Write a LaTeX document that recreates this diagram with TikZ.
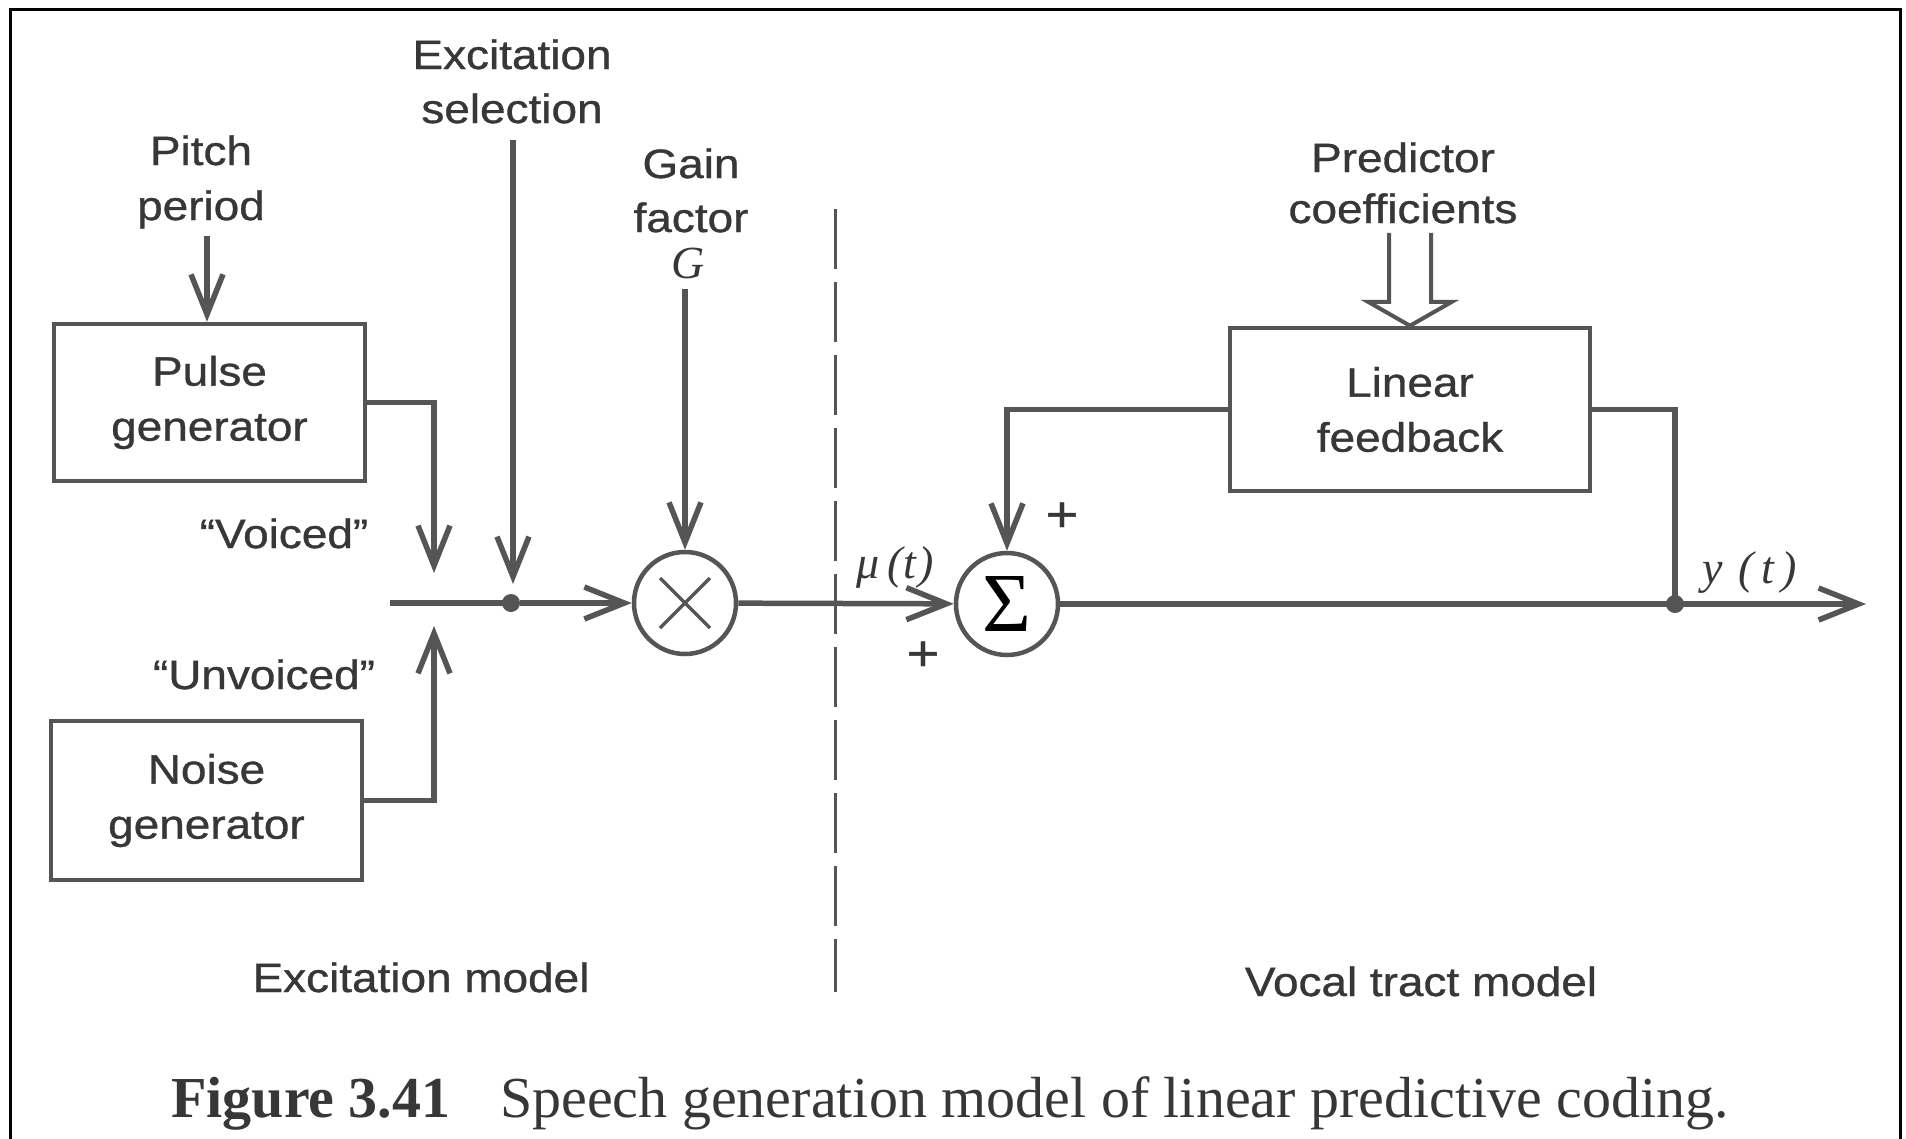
\documentclass[tikz,border=0pt]{standalone}
\usepackage{fontspec}
\setmainfont{Liberation Serif}
\newfontfamily\lab[FakeStretch=1.12,FakeBold=0.8]{Liberation Sans}
\usetikzlibrary{arrows.meta,calc}
\definecolor{ink}{RGB}{85,85,85}
\definecolor{txt}{RGB}{55,55,55}
\begin{document}
\begin{tikzpicture}[x=1pt,y=-1pt,
  lbl/.style={inner sep=0pt, anchor=base, text=txt, font=\lab\fontsize{41}{55}\selectfont},
  blk/.style={draw=ink, line width=4.5pt, rectangle, inner sep=0pt, align=center, text=txt, font=\lab\fontsize{41}{55}\selectfont},
  junc/.style={circle, fill=ink, inner sep=0pt, minimum size=18pt},
  opcirc/.style={circle, draw=ink, line width=4.5pt, minimum size=102pt, inner sep=0pt},
  conn/.style={draw=ink, line width=5.5pt},
  arr/.style={conn, -{Straight Barb[length=40pt,width=32pt]}},
  itl/.style={inner sep=0pt, anchor=base, text=txt, font=\fontsize{46}{50}\selectfont\itshape},
  plus/.style={inner sep=0pt, text=txt, font=\lab\fontsize{50}{50}\selectfont},
]
\fill[white] (0,0) rectangle (1906,1138);
\useasboundingbox (0,0) rectangle (1906,1138);
% frame
\draw[black, line width=3pt] (10,1142) -- (10,9) -- (1900,9) -- (1900,1142);

% blocks
\node[blk, minimum width=311pt, minimum height=157pt] (pg) at (209.5,402.5) {Pulse\\generator};
\node[blk, minimum width=311pt, minimum height=159pt] (ng) at (206.5,800.5) {Noise\\generator};
\node[blk, minimum width=360pt, minimum height=163pt] (lf) at (1410,409.5) {Linear\\feedback};

\node[junc] (j1) at (511,603) {};
\node[opcirc] (mul) at (685,603) {};
\node[opcirc] (sum) at (1007,604) {\fontsize{84}{84}\selectfont Σ};
\node[junc] (j2) at (1675,604) {};
\draw[ink, line width=3.5pt] ($(mul)+(-25,-25)$) -- ($(mul)+(25,25)$);
\draw[ink, line width=3.5pt] ($(mul)+(-25,25)$) -- ($(mul)+(25,-25)$);

% labels
\node[lbl] (exc1) at (512,69) {Excitation};
\node[lbl] (exc2) at (512,123) {selection};
\node[lbl] (p1) at (201,165) {Pitch};
\node[lbl] (p2) at (201,220) {period};
\node[lbl] (g1) at (691,178) {Gain};
\node[lbl] (g2) at (691,232) {factor};
\node[itl] (g3) at (688,278) {G};
\node[lbl] (voi) at (284,548) {“Voiced”};
\node[lbl] (unv) at (264,689) {“Unvoiced”};
\node[itl] (mu) at (895,578) {μ\,(\kern1pt t\kern2pt)};
\node[itl] (yt) at (1750,583) {y\,\,(\,t\,)};
\node[plus] (pl1) at (1062,517) {+};
\node[plus] (pl2) at (923,656) {+};
\node[lbl] (pc1) at (1403,172) {Predictor};
\node[lbl] (pc2) at (1403,223) {coefficients};
\node[lbl] (em) at (421,992) {Excitation model};
\node[lbl] (vm) at (1421,996) {Vocal tract model};
\node[anchor=base west, inner sep=0pt, text=txt, font=\fontsize{58}{60}\selectfont\bfseries] (fig) at (171,1117) {Figure 3.41};
\node[anchor=base west, inner sep=0pt, text=txt, font=\fontsize{58}{60}\selectfont] (cap) at (500,1117) {Speech generation model of linear predictive coding.};

% coordinates for free ends
\coordinate (mstart) at (390,603);
\coordinate (es) at (513,140);
\coordinate (estip) at (513,584);
\coordinate (pt) at (207,236);
\coordinate (gt) at (686,289);
\coordinate (vt) at (434,573);
\coordinate (ut) at (434,626);
\coordinate (yend) at (1866,604);
\coordinate (d1) at (835,209);
\coordinate (d2) at (835,992);

% connectors
\draw[arr] (pt) -- (pt |- pg.north);
\draw[arr] (pg.east) -| (vt);
\draw[arr] (ng.east) -| (ut);
\draw[arr] (es) -- (estip);
\draw[conn] (mstart) -- (j1.center);
\draw[arr] (j1) -- (mul);
\draw[arr] (mul.north |- gt) -- (mul.north);
\draw[arr] (mul) -- (sum);
\draw[arr] (sum) -- (yend);
\draw[conn] (j2.center) |- (lf.east);
\draw[arr] (lf.west) -| (sum.north);
\draw[ink, line width=4pt, line join=miter]
  ($(lf.north)+(-21,-93)$) -- ($(lf.north)+(-21,-24)$) -- ($(lf.north)+(-42,-24)$) --
  (lf.north) -- ($(lf.north)+(42,-24)$) -- ($(lf.north)+(21,-24)$) -- ($(lf.north)+(21,-93)$);
% divider
\draw[ink, line width=3pt, dash pattern=on 60pt off 13pt] (d1) -- (d2);
\end{tikzpicture}
\end{document}
